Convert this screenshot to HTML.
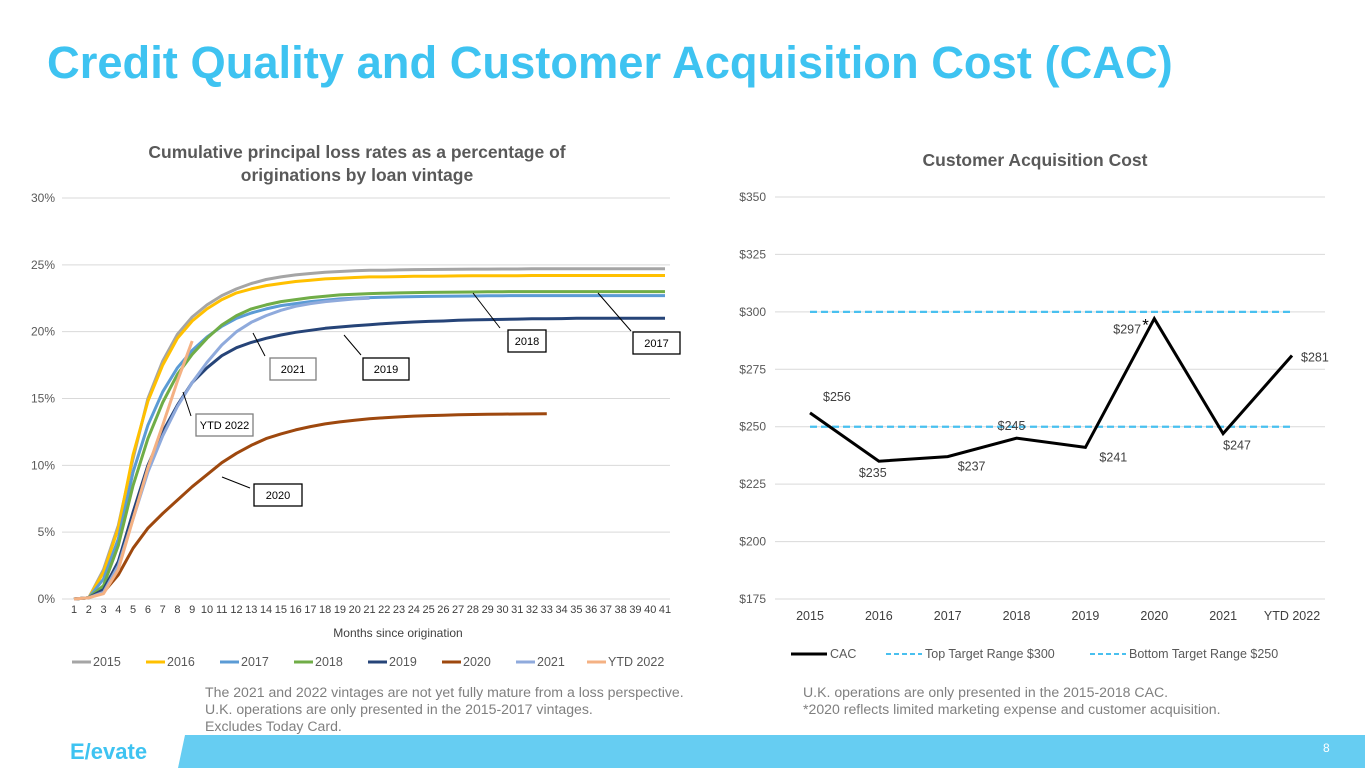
<!DOCTYPE html>
<html><head><meta charset="utf-8">
<style>
html,body{margin:0;padding:0;background:#fff;width:1365px;height:768px;overflow:hidden;font-family:"Liberation Sans",Arial,sans-serif;}
svg text{font-family:"Liberation Sans",Arial,sans-serif;}
</style></head>
<body>
<svg id="s" width="1365" height="768" viewBox="0 0 1365 768" xmlns="http://www.w3.org/2000/svg">
<text x="47" y="78" font-size="45.3" font-weight="bold" fill="#3ec3f1">Credit Quality and Customer Acquisition Cost (CAC)</text>
<text x="357" y="158" font-size="17.5" font-weight="bold" fill="#595959" text-anchor="middle">Cumulative principal loss rates as a percentage of</text>
<text x="357" y="181" font-size="17.5" font-weight="bold" fill="#595959" text-anchor="middle">originations by loan vintage</text>
<text x="1035" y="166" font-size="17.5" font-weight="bold" fill="#595959" text-anchor="middle">Customer Acquisition Cost</text>
<g id="left"></g>
<g id="right"></g>
<text x="205" y="697" font-size="14.1" fill="#7f7f7f">The 2021 and 2022 vintages are not yet fully mature from a loss perspective.</text>
<text x="205" y="714" font-size="14.1" fill="#7f7f7f">U.K. operations are only presented in the 2015-2017 vintages.</text>
<text x="205" y="731" font-size="14.1" fill="#7f7f7f">Excludes Today Card.</text>
<text x="803" y="697" font-size="14.1" fill="#7f7f7f">U.K. operations are only presented in the 2015-2018 CAC.</text>
<text x="803" y="714" font-size="14.1" fill="#7f7f7f">*2020 reflects limited marketing expense and customer acquisition.</text>
<polygon points="185,735 1365,735 1365,768 178,768" fill="#66cdf2"/>
<text x="70" y="759" font-size="22" fill="#3ec3f1" font-weight="bold">E/evate</text>
<text x="1323" y="752" font-size="12" fill="#fff">8</text>
</svg>
<script>
const NS="http://www.w3.org/2000/svg";
const months=Array.from({length:41},(_,i)=>i+1);
const yTicks=[0,5,10,15,20,25,30];
const v2015=[0,0.1,2.2,5.5,10.5,15,17.8,19.8,21.1,22,22.7,23.2,23.6,23.9,24.1,24.25,24.35,24.45,24.5,24.55,24.6,24.6,24.62,24.64,24.65,24.66,24.67,24.68,24.68,24.69,24.69,24.7,24.7,24.7,24.7,24.7,24.7,24.7,24.7,24.7,24.7];
const v2016=[0,0.1,2,5.3,10.8,14.8,17.5,19.5,20.8,21.7,22.4,22.9,23.2,23.45,23.6,23.75,23.85,23.95,24,24.05,24.1,24.1,24.12,24.14,24.15,24.16,24.17,24.18,24.18,24.19,24.19,24.2,24.2,24.2,24.2,24.2,24.2,24.2,24.2,24.2,24.2];
const v2017=[0,0.1,1.5,4.5,9.5,13,15.5,17.3,18.6,19.6,20.4,21,21.4,21.7,21.95,22.1,22.25,22.35,22.45,22.5,22.55,22.58,22.6,22.62,22.64,22.65,22.66,22.67,22.68,22.69,22.7,22.7,22.7,22.7,22.7,22.7,22.7,22.7,22.7,22.7,22.7];
const v2018=[0,0.1,1,4,8.5,12,14.7,16.8,18.3,19.5,20.5,21.2,21.7,22,22.25,22.4,22.55,22.65,22.75,22.8,22.85,22.88,22.9,22.92,22.94,22.95,22.96,22.97,22.98,22.99,23,23,23,23,23,23,23,23,23,23,23];
const v2019=[0,0.1,0.7,2.8,6.5,10,12.5,14.5,16.2,17.3,18.2,18.8,19.2,19.5,19.75,19.95,20.1,20.25,20.35,20.45,20.52,20.6,20.66,20.72,20.77,20.8,20.85,20.88,20.9,20.92,20.94,20.96,20.97,20.98,21,21,21,21,21,21,21];
const v2020=[0,0.1,0.5,1.8,3.8,5.3,6.4,7.4,8.4,9.3,10.2,10.9,11.5,12,12.35,12.65,12.9,13.1,13.25,13.38,13.48,13.56,13.62,13.68,13.72,13.75,13.78,13.8,13.82,13.83,13.84,13.85,13.86];
const v2021=[0,0.1,0.5,2.5,6,9.5,12.2,14.4,16.2,17.7,19,20,20.7,21.2,21.6,21.9,22.1,22.25,22.35,22.45,22.5];
const vYTD2022=[0,0.1,0.4,2.2,6,9.8,13,16.3,19.3];
const seriesNames=["2015","2016","2017","2018","2019","2020","2021","YTD 2022"];
const seriesColors=["#a5a5a5","#ffc000","#5b9bd5","#70ad47","#264478","#9e480e","#8faadc","#f4b183"];
const seriesVals=[v2015,v2016,v2017,v2018,v2019,v2020,v2021,vYTD2022];

const cacCats=["2015","2016","2017","2018","2019","2020","2021","YTD 2022"];
const cacVals=[256,235,237,245,241,297,247,281];
const cacTicks=[175,200,225,250,275,300,325,350];
const topTarget=300, bottomTarget=250;

function mk(tag,attrs,parent){const e=document.createElementNS(NS,tag);for(const k in attrs)e.setAttribute(k,attrs[k]);parent.appendChild(e);return e;}
const L=document.getElementById('left'), R=document.getElementById('right');
const lx=m=>74+(m-1)*(591/40);
const ly=v=>599-v*(401/30);
yTicks.forEach(t=>{
  const g=mk('line',{x1:62,x2:670,y1:ly(t),y2:ly(t),stroke:'#d9d9d9','stroke-width':1},L);
  
  
  const tx=mk('text',{x:55,y:ly(t)+4,'font-size':12,fill:'#595959','text-anchor':'end'},L);
  tx.textContent=t+'%';
  
  
});
months.forEach(m=>{
  const tx=mk('text',{x:lx(m),y:613,'font-size':11,fill:'#404040','text-anchor':'middle'},L);
  tx.textContent=m;
  
  
});
const xt=mk('text',{x:398,y:637,'font-size':12,fill:'#404040','text-anchor':'middle'},L);
xt.textContent='Months since origination';


seriesVals.forEach((vals,i)=>{
  const d=vals.map((v,j)=>(j?'L':'M')+lx(j+1).toFixed(1)+','+ly(v).toFixed(1)).join('');
  const p=mk('path',{d:d,fill:'none',stroke:seriesColors[i],'stroke-width':3,'stroke-linejoin':'round'},L);
  
  
});
const callouts=[["2021",270,358,46,253,333,265,356,'#7f7f7f'],["2019",363,358,46,344,335,361,355,'#000'],["2018",508,330,38,473,293,500,328,'#000'],["2017",633,332,47,598,293,631,331,'#000'],["YTD 2022",196,414,57,183,392,191,416,'#7f7f7f'],["2020",254,484,48,222,477,250,488,'#000']];
callouts.forEach(c=>{
  const ln=mk('line',{x1:c[4],y1:c[5],x2:c[6],y2:c[7],stroke:'#000','stroke-width':1},L);
  
  
  const r=mk('rect',{x:c[1],y:c[2],width:c[3],height:22,fill:'#fff',stroke:c[8],'stroke-width':1.3},L);
  
  
  const t=mk('text',{x:c[1]+c[3]/2,y:c[2]+15,'font-size':11,fill:'#000','text-anchor':'middle'},L);
  t.textContent=c[0];
  
  
});
const legX=[72,146,220,294,368,442,516,587];
seriesNames.forEach((n,i)=>{
  const ln=mk('line',{x1:legX[i],x2:legX[i]+19,y1:662,y2:662,stroke:seriesColors[i],'stroke-width':3},L);
  
  
  const t=mk('text',{x:legX[i]+21,y:666,'font-size':12.5,fill:'#595959'},L);
  t.textContent=n;
  
  
});
const rx=i=>810+i*(482/7);
const ry=v=>599-(v-175)*(402/175);
cacTicks.forEach(t=>{
  const g=mk('line',{x1:775,x2:1325,y1:ry(t),y2:ry(t),stroke:'#d9d9d9','stroke-width':1},R);
  
  
  const tx=mk('text',{x:766,y:ry(t)+4,'font-size':12,fill:'#595959','text-anchor':'end'},R);
  tx.textContent='$'+t;
  
  
});
cacCats.forEach((c,i)=>{
  const tx=mk('text',{x:rx(i),y:620,'font-size':12.5,fill:'#404040','text-anchor':'middle'},R);
  tx.textContent=c;
  
  
});
[[topTarget,'top-target-line'],[bottomTarget,'bottom-target-line']].forEach(a=>{
  const l=mk('line',{x1:rx(0),x2:rx(7),y1:ry(a[0]),y2:ry(a[0]),stroke:'#49c0ef','stroke-width':2.2,'stroke-dasharray':'7,4'},R);
  
  
});
const cd=cacVals.map((v,i)=>(i?'L':'M')+rx(i).toFixed(1)+','+ry(v).toFixed(1)).join('');
const cl=mk('path',{d:cd,fill:'none',stroke:'#000','stroke-width':3,'stroke-linejoin':'miter'},R);


const lblOff=[[13,-12,'start'],[-20,16,'start'],[10,14,'start'],[-5,-8,'middle'],[14,14,'start'],[-41,15,'start'],[0,16,'start'],[9,6,'start']];
cacVals.forEach((v,i)=>{
  const o=lblOff[i];
  const t=mk('text',{x:rx(i)+o[0],y:ry(v)+o[1],'font-size':12.5,fill:'#404040','text-anchor':o[2]},R);
  t.textContent='$'+v;
  
  
  if(i===5){
    const s=mk('text',{x:rx(i)-12,y:ry(v)+12,'font-size':17,fill:'#000'},R);
    s.textContent='*';
    
    
  }
});
const rl=[['CAC',791,'#000',false],['Top Target Range $300',886,'#49c0ef',true],['Bottom Target Range $250',1090,'#49c0ef',true]];
rl.forEach(e=>{
  const a={x1:e[1],x2:e[1]+36,y1:654,y2:654,stroke:e[2],'stroke-width':e[3]?2:3};
  if(e[3])a['stroke-dasharray']='5,3';
  const ln=mk('line',a,R);
  
  
  const t=mk('text',{x:e[1]+39,y:658,'font-size':12.5,fill:'#595959'},R);
  t.textContent=e[0];
  
  
});
</script>
</body></html>
